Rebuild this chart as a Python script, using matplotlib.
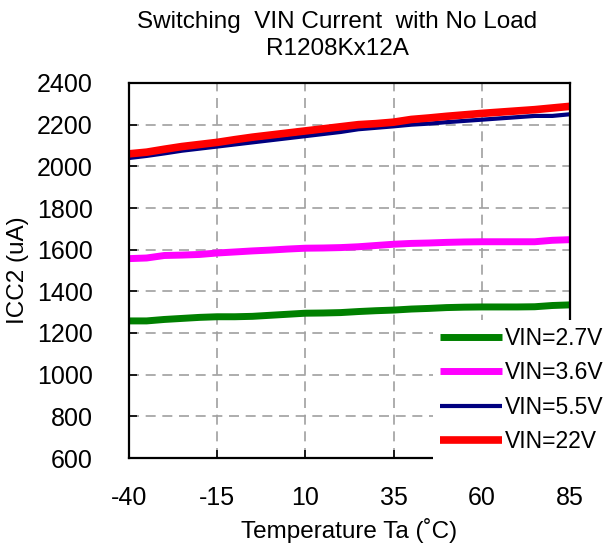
import matplotlib
matplotlib.use("Agg")
import matplotlib.pyplot as plt

# Temperature points (deg C)
temps = [-40, -35, -30, -25, -20, -15, -10, -5, 0, 5, 10, 15, 20,
         25, 30, 35, 40, 45, 50, 55, 60, 65, 70, 75, 80, 85]

# ICC2 (uA) for each input voltage
icc_27 = [1258, 1258, 1265, 1270, 1275, 1278, 1278, 1280, 1285, 1290, 1295, 1296, 1298,
          1303, 1307, 1310, 1315, 1318, 1322, 1324, 1325, 1325, 1325, 1326, 1332, 1335]
icc_36 = [1557, 1560, 1572, 1574, 1577, 1584, 1589, 1594, 1598, 1603, 1607, 1608, 1610,
          1614, 1620, 1626, 1630, 1632, 1635, 1637, 1638, 1638, 1638, 1638, 1645, 1648]
icc_55 = [2040, 2050, 2062, 2075, 2085, 2095, 2105, 2115, 2125, 2135, 2145, 2155, 2165,
          2178, 2185, 2192, 2200, 2205, 2212, 2218, 2224, 2230, 2236, 2242, 2242, 2250]
icc_22 = [2060, 2068, 2082, 2095, 2105, 2115, 2128, 2140, 2150, 2160, 2170, 2180, 2190,
          2200, 2205, 2212, 2225, 2232, 2240, 2247, 2254, 2260, 2266, 2272, 2280, 2288]

x_ticks = [-40, -15, 10, 35, 60, 85]
y_ticks = list(range(600, 2401, 200))

plt.rcParams['font.family'] = ['Liberation Sans', 'DejaVu Sans']
plt.rcParams['axes.unicode_minus'] = False

fig = plt.figure(figsize=(6.09, 5.46), dpi=100)
ax = fig.add_axes([129 / 609, 88 / 546, 441 / 609, 375 / 546])

ax.plot(temps, icc_27, color='#008000', linewidth=5, label='VIN=2.7V', solid_capstyle='butt')
ax.plot(temps, icc_36, color='#ff00ff', linewidth=5, label='VIN=3.6V', solid_capstyle='butt')
ax.plot(temps, icc_55, color='#000080', linewidth=3, label='VIN=5.5V', solid_capstyle='butt')
ax.plot(temps, icc_22, color='#ff0000', linewidth=5.5, label='VIN=22V', solid_capstyle='butt')

ax.set_xlim(-40, 85)
ax.set_ylim(600, 2400)
ax.set_xticks(x_ticks)
ax.set_yticks(y_ticks)
ax.tick_params(direction='in', length=6, width=1.2, labelsize=18)
ax.tick_params(axis='y', pad=26)
ax.tick_params(axis='x', pad=20)

ax.grid(True, color='#a0a0a0', linestyle=(0, (6, 4)), linewidth=1.2)
for s in ax.spines.values():
    s.set_linewidth(1.6)

ax.set_xlabel('Temperature Ta (˚C)', fontsize=17.5, labelpad=6)
ax.set_ylabel('ICC2 (uA)', fontsize=17.5, labelpad=6)
ax.set_title('Switching  VIN Current  with No Load\nR1208Kx12A', fontsize=17.5, pad=20,
             linespacing=1.3, x=0.472)

leg = ax.legend(loc='lower left', bbox_to_anchor=(433 / 609, 86 / 546),
                bbox_transform=fig.transFigure, fontsize=16.5, frameon=True,
                facecolor='white', edgecolor='none', framealpha=1, fancybox=False,
                handlelength=2.7, handletextpad=0.15, labelspacing=0.5,
                borderpad=0.3, borderaxespad=0)

fig.savefig('out.png', dpi=100)
